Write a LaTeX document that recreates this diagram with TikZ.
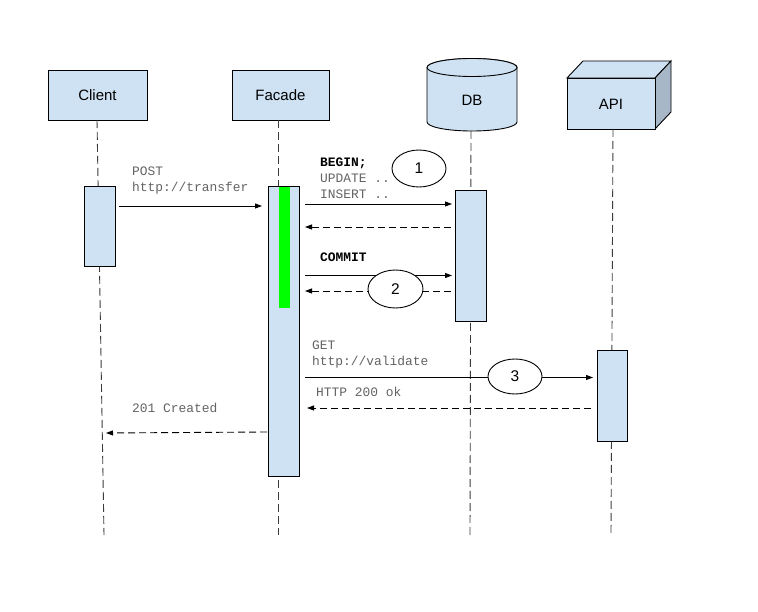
\documentclass[tikz,border=0pt]{standalone}
\usepackage{fontspec}
\setmainfont{Liberation Sans}
\setmonofont{Liberation Mono}
\usetikzlibrary{arrows.meta,shapes.geometric}
\definecolor{boxblue}{RGB}{207,226,243}
\definecolor{sideblue}{RGB}{168,183,199}
\definecolor{brightgreen}{RGB}{0,255,0}
\definecolor{msggray}{RGB}{100,100,100}
\definecolor{lifegray}{RGB}{60,60,60}
\tikzset{
  actor/.style={draw=black, fill=boxblue, line width=0.9pt, minimum width=99pt, minimum height=50pt, inner sep=0pt, font=\fontsize{15}{18}\selectfont},
  headtext/.style={inner sep=0pt, font=\fontsize{15}{18}\selectfont},
  actbox/.style={draw=black, fill=boxblue, line width=0.9pt, minimum width=31pt, inner sep=0pt},
  greenbar/.style={fill=brightgreen, draw=none, minimum width=11pt, minimum height=121pt, inner sep=0pt},
  lifeline/.style={draw=lifegray, line width=0.9pt, dash pattern=on 8pt off 4pt},
  msg/.style={draw=black, line width=0.9pt, -{Triangle[length=7pt,width=5pt]}},
  reply/.style={draw=black, line width=0.9pt, dash pattern=on 7pt off 4pt, -{Triangle[length=7pt,width=5pt]}},
  mlabel/.style={anchor=base west, inner sep=0pt, text=msggray, font=\ttfamily\fontsize{12.9}{15}\selectfont},
  blabel/.style={anchor=base west, inner sep=0pt, text=black, font=\ttfamily\bfseries\fontsize{12.9}{15}\selectfont},
  num/.style={ellipse, draw=black, fill=white, line width=0.9pt, minimum width=54pt, minimum height=37pt, inner sep=0pt, font=\fontsize{15.5}{18}\selectfont}
}
\begin{document}
\begin{tikzpicture}[x=1pt,y=-1pt]
\useasboundingbox (0,0) rectangle (758,612);
\fill[white] (0,0) rectangle (758,612);

% header nodes
\node[actor] (client) at (97.5,95) {Client};
\node[actor, minimum width=97pt] (facade) at (280.5,95) {Facade};

% DB cylinder
\path[fill=boxblue, draw=black, line width=0.9pt]
  (427,67.5) -- (427,122) arc[start angle=180, end angle=360, x radius=45pt, y radius=9pt]
  -- (517,67.5) arc[start angle=0, end angle=180, x radius=45pt, y radius=9pt] -- cycle;
\draw[fill=boxblue, line width=0.9pt] (472,67.5) ellipse[x radius=45pt, y radius=9pt];
\node[headtext] (db) at (472,100) {DB};

% API cube
\path[fill=boxblue, draw=black, line width=0.9pt] (567,78) -- (583,61) -- (671,61) -- (655,78) -- cycle;
\path[fill=sideblue, draw=black, line width=0.9pt] (655,78) -- (671,61) -- (671,112) -- (655,129) -- cycle;
\node[draw=black, fill=boxblue, line width=0.9pt, minimum width=88pt, minimum height=51pt, inner sep=0pt] (apibox) at (611,103.5) {};
\node[headtext] (api) at (611,104) {API};

% lifeline coordinates
\coordinate (clientTop) at (97,120);
\coordinate (clientEnd) at (104,535);
\coordinate (facadeTop) at (278,120);
\coordinate (facadeEnd) at (278,535);
\coordinate (dbTop) at (471,131);
\coordinate (dbEnd) at (470,535);
\coordinate (apiTop) at (613,129);
\coordinate (apiEnd) at (611,535);
\draw[lifeline] (clientTop) -- (clientEnd);
\draw[lifeline] (facadeTop) -- (facadeEnd);
\draw[lifeline] (dbTop) -- (dbEnd);
\draw[lifeline] (apiTop) -- (apiEnd);

% activation boxes
\node[actbox, minimum height=80pt] (clientAct) at (99.5,226) {};
\node[actbox, minimum height=290pt] (facadeAct) at (284,331) {};
\node[actbox, minimum height=131pt] (dbAct) at (471,256) {};
\node[actbox, minimum width=30pt, minimum height=91pt] (apiAct) at (612,395.5) {};
\node[greenbar] (green) at (284,247.5) {};

% message end points
\coordinate (postS) at (119,206);
\coordinate (postE) at (262,206);
\coordinate (beginS) at (305,204);
\coordinate (beginE) at (452,204);
\coordinate (ret1S) at (451,227);
\coordinate (ret1E) at (305,227);
\coordinate (commitS) at (305,275.5);
\coordinate (commitE) at (452,275.5);
\coordinate (ret2S) at (451,291);
\coordinate (ret2E) at (305,291);
\coordinate (getS) at (305,377.5);
\coordinate (getE) at (593,377.5);
\coordinate (okS) at (591,408);
\coordinate (okE) at (307,408);
\coordinate (createdS) at (267,432);
\coordinate (createdE) at (106,433);

\draw[msg] (postS) -- (postE);
\draw[msg] (beginS) -- (beginE);
\draw[reply] (ret1S) -- (ret1E);
\draw[msg] (commitS) -- (commitE);
\draw[reply] (ret2S) -- (ret2E);
\draw[msg] (getS) -- (getE);
\draw[reply] (okS) -- (okE);
\draw[reply] (createdS) -- (createdE);

% labels
\node[mlabel] (postL1) at (132,176) {POST};
\node[mlabel] (postL2) at (132,191.5) {http://transfer};
\node[blabel] (beginL) at (320,167) {BEGIN;};
\node[mlabel] (updL) at (320,182.5) {UPDATE ..};
\node[mlabel] (insL) at (320,198.5) {INSERT ..};
\node[blabel] (commitL) at (320,262) {COMMIT};
\node[mlabel] (getL1) at (312,349.5) {GET};
\node[mlabel] (getL2) at (312,365.5) {http://validate};
\node[mlabel] (okL) at (316,396.5) {HTTP 200 ok};
\node[mlabel] (createdL) at (132,412.5) {201 Created};

% numbered ellipses
\node[num] (n1) at (419,168.5) {1};
\node[num, minimum width=55pt, minimum height=38pt] (n2) at (395.5,289) {2};
\node[num, minimum height=35pt] (n3) at (515,376.5) {3};
\end{tikzpicture}
\end{document}
